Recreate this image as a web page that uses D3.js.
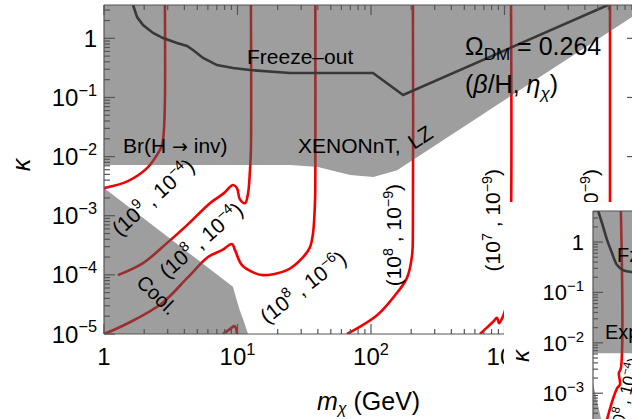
<!DOCTYPE html>
<html><head><meta charset="utf-8">
<script src="https://cdn.jsdelivr.net/npm/d3@7"></script>
<style>
body{margin:0;background:#fff}
svg{display:block}
text{font-family:"Liberation Sans",Arial,Helvetica,sans-serif;fill:#000}
</style>
</head><body>
<svg id="c" width="632" height="419"></svg>
<script>
// ---------------- data ----------------
const xTicks = [1, 10, 100, 1000];
const xTickExp = ["", "1", "2", "3"];
const yTicks = [1, 1e-1, 1e-2, 1e-3, 1e-4, 1e-5];
const yTickExp = ["", "−1", "−2", "−3", "−4", "−5"];
const insetYTicks = [1, 1e-1, 1e-2, 1e-3];
const insetYTickExp = ["", "−1", "−2", "−3"];

// excluded regions [m (GeV), kappa]
const expRegion = [[1,7.2e-3],[25,7.2e-3],[40,6.7e-3],[70,4.9e-3],[104,4.5e-3],[157,5.9e-3],[1e4,2.67]];
const coolRegion = [[1,2.93e-3],[9.25,6.3e-5],[9.75,4.1e-5],[10.4,2.53e-5],[11.2,1.6e-5],[12.0,1e-5],[1,1e-5]];
// freeze-out line
const freezeOut = [[1.65,3.66],[1.77,2.29],[1.96,1.68],[2.33,1.23],[2.77,1.01],[3.52,0.832],[4.19,0.741],[4.64,0.634],[5.52,0.465],[7.02,0.353],[9.25,0.314],[12.4,0.291],[24.7,0.259],[103.5,0.259],[174,0.110],[5960,3.66]];
// Omega_DM = 0.264 contours, labelled (beta/H, eta_chi)
const curve_9_4 = [[1,2.93e-3],[1.51,3.85e-3],[2.10,6.38e-3],[2.49,1.06e-2],[2.72,1.56e-2],[2.81,2.8e-2],[2.86,9.0e-2],[2.86,3.66]];
const curve_8_4a = [[1.27,9.9e-5],[1.96,1.58e-4],[2.96,3.44e-4],[4.19,6.93e-4],[6.22,1.63e-3],[7.92,2.41e-3],[9.25,3.3e-3],[9.91,2.93e-3],[10.4,1.91e-3],[11.4,1.63e-3],[12.0,2.41e-3],[12.4,5.9e-3],[12.6,1.29e-2],[12.6,3.66]];
const curve_8_4b = [[1,1e-5],[1.51,1.52e-5],[2.72,3.32e-5],[4.26,9.14e-5],[6.01,2.0e-4],[7.65,2.62e-4],[9.09,3.31e-4],[9.58,2.62e-4],[10.8,1.46e-4],[13.5,1.07e-4],[15.5,9.9e-5],[23.5,1.2e-4],[31.0,2.0e-4],[34.9,2.94e-4],[36.8,5.08e-4],[38.1,1.84e-3],[38.3,7.76e-3],[38.3,3.66]];
const curve_8_6 = [[7.79,1e-5],[8.78,1.21e-5],[9.42,1.36e-5],[9.75,1.25e-5],[9.91,1e-5]];
const curve_8_9 = [[66.1,1e-5],[111,2.08e-5],[150,4.4e-5],[186,8.9e-5],[203,2.14e-4],[206,6.6e-4],[206,3.66]];
const curve_7_9 = [[655,1e-5],[820,1.6e-5],[879,1.88e-5],[910,1.52e-5],[955,1.8e-5],[991,2.2e-5],[1030,3e-5],[1080,1e-4],[1119,1e-3],[1119,3.66]];
const curve_6_9 = [[6170,1e-4],[6170,3.66]];
const redCurves = [curve_9_4, curve_8_4a, curve_8_4b, curve_8_6, curve_8_9, curve_7_9, curve_6_9];

// curve labels: [betaOverH exponent, eta exponent, m, kappa, angle]
const curveLabels = [
  ["9","−4",2.33,2.06e-3,-42],
  ["8","−4",5.33,3.87e-4,-41],
  ["8","−6",31.0,6.2e-5,-38],
  ["8","−9",149,4.7e-4,-90],
  ["7","−9",820,8.4e-4,-90],
  ["6","−9",4446,8.4e-4,-90]
];

// inset panel data
const insetExp = [[1,6.2e-3],[1e4,6.2e-3]];
const insetCool = [[1,1.57e-3],[1.30,1.16e-4],[1,1.16e-4]];
const insetFreeze = [[1.11,4.13],[1.20,2.39],[1.33,1.10],[1.47,0.604],[1.63,0.349],[1.84,0.277],[2.20,0.253],[2.6,0.25]];
const insetRed = [[1.76,4.13],[1.76,3.13e-3],[1.69,2.5e-3],[1.73,1.5e-3],[1.63,1.25e-3],[1.33,3.03e-4],[1.2,1e-4]];

// ---------------- drawing ----------------
const svg = d3.select("#c");
const L = 104, R = 638, T = 5, B = 334;
const x = d3.scaleLog().domain([1, 1e4]).range([L, R]);
const y = d3.scaleLog().domain([1e-5, 3.66]).range([B, T]);

const greyFill = "#555", greyOp = 0.57;
const red = "#f00000";

svg.append("defs").append("clipPath").attr("id","clipMain")
  .append("rect").attr("x",L).attr("y",T).attr("width",R-L).attr("height",B-T);

const plot = svg.append("g").attr("clip-path","url(#clipMain)");

const lineRed = d3.line().x(d=>x(d[0])).y(d=>y(d[1])).curve(d3.curveCatmullRom.alpha(0.5));
redCurves.forEach(c=>{
  plot.append("path").attr("d", lineRed(c)).attr("fill","none")
    .attr("stroke", red).attr("stroke-width", 2.6);
});

// grey excluded regions
const expPoly = [[1,3.66]].concat(expRegion).concat([[1e4,3.66]]);
plot.append("path").attr("d", d3.line().x(d=>x(d[0])).y(d=>y(d[1]))(expPoly)+"Z")
  .attr("fill", greyFill).attr("fill-opacity", greyOp);
plot.append("path").attr("d", d3.line().x(d=>x(d[0])).y(d=>y(d[1])).curve(d3.curveLinear)(coolRegion)+"Z")
  .attr("fill", greyFill).attr("fill-opacity", greyOp);

plot.append("path").attr("d", d3.line().x(d=>x(d[0])).y(d=>y(d[1]))(freezeOut))
  .attr("fill","none").attr("stroke","#383838").attr("stroke-width",2.6);

// helper for text with superscripts
function rich(g, parts, fs) {
  const t = g.append("text").attr("font-size", fs);
  let up = false;
  parts.forEach(p=>{
    const s = t.append("tspan").text(p[0]);
    if (p[1] === "sup" && !up) { s.attr("dy", -0.42*fs).attr("font-size", 0.68*fs); up = "sup"; }
    else if (p[1] === "sub" && !up) { s.attr("dy", 0.25*fs).attr("font-size", 0.68*fs); up = "sub"; }
    else if (!p[1] && up) { s.attr("dy", up==="sup" ? 0.42*fs : -0.25*fs); up = false; }
    else if (p[1] && up) { s.attr("font-size", 0.68*fs); }
    if (p[2]) s.attr("font-style","italic");
  });
  return t;
}

// curve labels
curveLabels.forEach(l=>{
  const g = plot.append("g").attr("transform", `translate(${x(l[2])},${y(l[3])}) rotate(${l[4]})`);
  rich(g, [["(10"],[l[0],"sup"],[" , 10"],[l[1],"sup"],[")"]], 21)
    .attr("text-anchor","middle").attr("dy","0.35em");
});

// region labels
{
  const t = plot.append("text").attr("x",123).attr("y",153).attr("font-size",21);
  t.append("tspan").text("Br(H ");
  t.append("tspan").attr("font-family","DejaVu Sans").attr("font-size",19).text("→");
  t.append("tspan").text(" inv)");
}
plot.append("text").attr("x",247).attr("y",64).attr("font-size",21).text("Freeze–out");
plot.append("text").attr("x",298).attr("y",153).attr("font-size",21).text("XENONnT,");
plot.append("text").attr("font-size",21)
  .attr("transform","translate(414,150) rotate(-33)").text("LZ");
plot.append("text").attr("font-size",20).attr("text-anchor","middle").attr("dy","0.35em")
  .attr("transform","translate(157,295) rotate(44)").text("Cool.");
{
  const t = plot.append("text").attr("x",465).attr("y",55).attr("font-size",25);
  t.append("tspan").text("Ω");
  t.append("tspan").attr("dy",5).attr("font-size",17).text("DM");
  t.append("tspan").attr("dy",-5).text(" = 0.264");
  const t2 = plot.append("text").attr("x",465).attr("y",93).attr("font-size",25);
  t2.append("tspan").text("(");
  t2.append("tspan").attr("font-style","italic").text("β");
  t2.append("tspan").text("/H, ");
  t2.append("tspan").attr("font-style","italic").text("η");
  t2.append("tspan").attr("dy",6).attr("font-size",17).attr("font-style","italic").text("χ");
  t2.append("tspan").attr("dy",-6).text(")");
}

// axes / frame
const axisCol = "#555";
const frame = svg.append("g").attr("stroke", axisCol).attr("stroke-width",1.2);
frame.append("line").attr("x1",L).attr("x2",R).attr("y1",B).attr("y2",B);
frame.append("line").attr("x1",L).attr("x2",R).attr("y1",T).attr("y2",T);
frame.append("line").attr("x1",L).attr("x2",L).attr("y1",T).attr("y2",B);
frame.append("line").attr("x1",R).attr("x2",R).attr("y1",T).attr("y2",B);

const xAll = [];
for (let e=0; e<4; e++) for (let k=1; k<10; k++) xAll.push([k*Math.pow(10,e), k===1]);
xAll.push([1e4,true]);
xAll.forEach(d=>{
  const len = d[1] ? 10 : 5;
  frame.append("line").attr("x1",x(d[0])).attr("x2",x(d[0])).attr("y1",B).attr("y2",B-len);
  frame.append("line").attr("x1",x(d[0])).attr("x2",x(d[0])).attr("y1",T).attr("y2",T+len);
});
const yAll = [];
for (let e=-5; e<1; e++) for (let k=1; k<10; k++) { const v=k*Math.pow(10,e); if (v<=3.66) yAll.push([v,k===1]); }
yAll.forEach(d=>{
  const len = d[1] ? 11 : 6;
  frame.append("line").attr("y1",y(d[0])).attr("y2",y(d[0])).attr("x1",L).attr("x2",L+len);
  frame.append("line").attr("y1",y(d[0])).attr("y2",y(d[0])).attr("x1",R).attr("x2",R-len);
});

// tick labels
xTicks.forEach((v,i)=>{
  const parts = i===0 ? [["1"]] : [["10"],[xTickExp[i],"sup"]];
  rich(svg.append("g"), parts, 24).attr("x", x(v)).attr("y", 365).attr("text-anchor","middle");
});
yTicks.forEach((v,i)=>{
  const parts = i===0 ? [["1"]] : [["10"],[yTickExp[i],"sup"]];
  rich(svg.append("g"), parts, 24).attr("x", 97).attr("y", y(v)+8.5).attr("text-anchor","end");
});

// axis titles
{
  const t = svg.append("text").attr("x",317).attr("y",410).attr("font-size",25);
  t.append("tspan").attr("font-style","italic").text("m");
  t.append("tspan").attr("dy",4).attr("font-size",16).attr("font-style","italic").text("χ");
  t.append("tspan").attr("dy",-4).text(" (GeV)");
  svg.append("text").attr("font-size",25).attr("font-style","italic").attr("text-anchor","middle")
    .attr("transform","translate(30,165) rotate(-90)").text("κ");
}

// ---------------- inset (second panel, partly visible) ----------------
svg.append("rect").attr("x",504).attr("y",202).attr("width",130).attr("height",220).attr("fill","#fff");
const iL = 593, iT = 211, iB = 494;
const ix = d3.scaleLog().domain([1,1e4]).range([iL, iL+454]);
const iy = d3.scaleLog().domain([1e-5, 4.13]).range([iB, iT]);
svg.select("defs").append("clipPath").attr("id","clipIn")
  .append("rect").attr("x",iL).attr("y",iT).attr("width",60).attr("height",230);
const ip = svg.append("g").attr("clip-path","url(#clipIn)");
const iline = d3.line().x(d=>ix(d[0])).y(d=>iy(d[1]));
ip.append("path").attr("d", d3.line().x(d=>ix(d[0])).y(d=>iy(d[1])).curve(d3.curveCatmullRom.alpha(0.5))(insetRed))
  .attr("fill","none").attr("stroke",red).attr("stroke-width",2.6);
ip.append("path").attr("d", iline([[1,4.13]].concat(insetExp).concat([[1e4,4.13]]))+"Z")
  .attr("fill",greyFill).attr("fill-opacity",greyOp);
ip.append("path").attr("d", iline(insetCool)+"Z").attr("fill",greyFill).attr("fill-opacity",greyOp);
ip.append("path").attr("d", d3.line().x(d=>ix(d[0])).y(d=>iy(d[1])).curve(d3.curveCatmullRom.alpha(0.5))(insetFreeze))
  .attr("fill","none").attr("stroke","#383838").attr("stroke-width",2.6);
ip.append("text").attr("x",617).attr("y",262).attr("font-size",20).text("Fz");
ip.append("text").attr("x",605).attr("y",339).attr("font-size",20).text("Exp");
{
  const g = ip.append("g").attr("transform","translate(624,398) rotate(-76)");
  rich(g, [["(10"],["8","sup"],[" , 10"],["−4","sup"],[")"]], 17).attr("text-anchor","middle").attr("dy","0.35em");
}
const iframe = svg.append("g").attr("stroke",axisCol).attr("stroke-width",1.2);
iframe.append("line").attr("x1",iL).attr("x2",iL).attr("y1",iT).attr("y2",419);
iframe.append("line").attr("x1",iL).attr("x2",640).attr("y1",iT).attr("y2",iT);
for (let e=-4; e<1; e++) for (let k=1; k<10; k++) {
  const v = k*Math.pow(10,e); if (v>4.13) continue;
  const len = k===1 ? 10 : 5;
  iframe.append("line").attr("x1",iL).attr("x2",iL+len).attr("y1",iy(v)).attr("y2",iy(v));
}
insetYTicks.forEach((v,i)=>{
  const parts = i===0 ? [["1"]] : [["10"],[insetYTickExp[i],"sup"]];
  rich(svg.append("g"), parts, 22).attr("x", 584).attr("y", iy(v)+8).attr("text-anchor","end");
});
svg.append("text").attr("font-size",24).attr("font-style","italic").attr("text-anchor","middle")
  .attr("transform","translate(529,356) rotate(-90)").text("κ");
</script>
</body></html>
